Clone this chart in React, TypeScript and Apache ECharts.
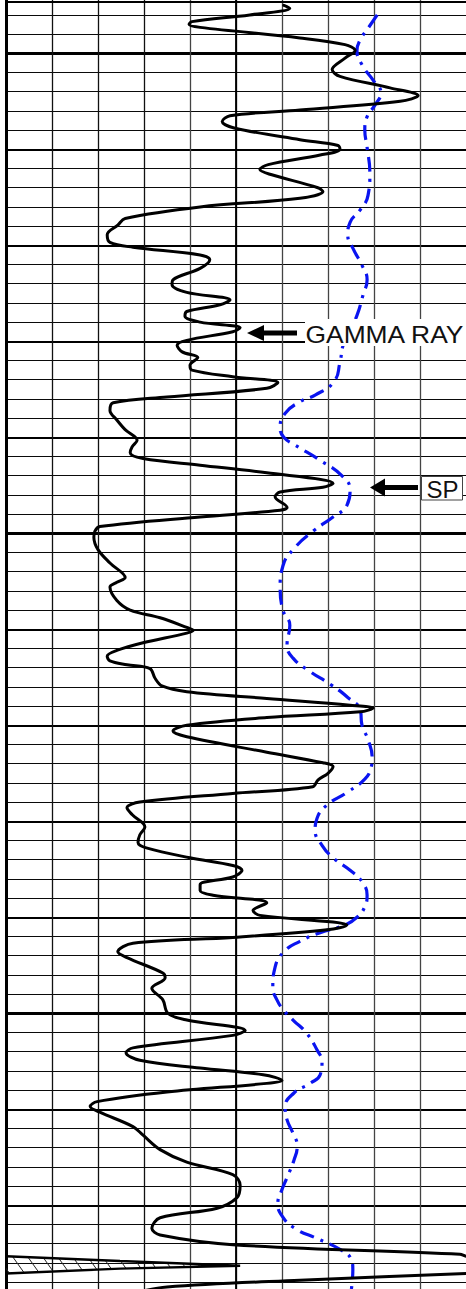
import React, { useEffect, useRef } from 'react';
import * as echarts from 'echarts';

// Depth (ft) and gamma-ray reading (0-100 scale, values above 100 wrap to a backup trace)
const gammaDepth = [4995.0, 4995.3, 4996.0, 4996.7, 4997.0, 4997.3, 4998.4, 4999.1, 4999.7, 5000.5,
  5001.7, 5002.4, 5003.6, 5004.4, 5005.0, 5005.9, 5006.5, 5007.1, 5007.8, 5009.0,
  5009.6, 5010.0, 5010.6, 5011.6, 5012.1, 5012.6, 5014.0, 5014.4, 5015.1, 5016.0,
  5017.2, 5017.9, 5018.9, 5019.7, 5020.2, 5021.0, 5021.5, 5022.4, 5023.6, 5024.1,
  5024.9, 5025.7, 5026.2, 5026.9, 5027.4, 5028.0, 5028.6, 5029.0, 5029.9, 5030.4,
  5031.1, 5031.7, 5032.5, 5033.0, 5033.7, 5034.3, 5034.9, 5035.8, 5036.4, 5037.2,
  5038.2, 5039.2, 5040.3, 5041.0, 5041.6, 5042.2, 5042.9, 5043.7, 5044.8, 5045.2,
  5045.7, 5046.2, 5047.3, 5047.6, 5048.3, 5049.3, 5049.8, 5050.4, 5051.7, 5053.1,
  5054.6, 5055.1, 5055.6, 5057.0, 5058.0, 5058.8, 5059.8, 5060.1, 5060.4, 5061.4,
  5062.2, 5062.8, 5063.3, 5063.7, 5064.1, 5065.1, 5065.9, 5066.5, 5067.2, 5067.9,
  5068.2, 5068.6, 5069.2, 5070.0, 5070.6, 5071.2, 5072.8, 5073.9, 5074.3, 5075.0,
  5075.7, 5076.4, 5077.1, 5078.0, 5078.6, 5079.3, 5080.6, 5081.4, 5082.2, 5082.8,
  5083.8, 5084.6, 5085.1, 5085.8, 5086.6, 5087.2, 5087.7, 5088.5, 5089.3, 5089.8,
  5090.5, 5090.8, 5091.3, 5092.1, 5092.7, 5093.6, 5094.2, 5095.8, 5096.3, 5097.4,
  5098.6, 5100.0, 5100.7, 5101.8, 5102.3, 5103.6, 5104.1, 5104.9, 5105.7, 5106.4,
  5107.0, 5107.3, 5108.2, 5109.2, 5109.7, 5110.3, 5111.8, 5112.7, 5114.2, 5115.5,
  5116.8, 5117.9, 5119.2, 5120.3, 5121.3, 5122.4, 5123.1, 5124.1, 5125.1, 5125.3,
  5125.8, 5126.3, 5126.6, 5127.1, 5127.8, 5128.5, 5129.0];

const gammaValue = [60.4, 61.7, 53.0, 40.4, 39.8, 42.2, 63.9, 73.7, 75.9, 73.7,
  70.9, 72.6, 83.5, 89.6, 85.7, 63.9, 48.7, 47.0, 49.8, 63.9,
  72.2, 72.6, 68.3, 57.0, 55.2, 57.4, 67.8, 68.9, 63.9, 42.2,
  25.9, 24.3, 22.0, 22.6, 27.6, 42.2, 44.3, 42.2, 36.3, 36.1,
  39.3, 48.7, 46.5, 39.3, 38.9, 42.2, 50.9, 49.3, 39.3, 37.2,
  38.3, 41.7, 40.0, 40.4, 49.3, 59.1, 56.7, 35.0, 23.3, 22.6,
  24.1, 25.9, 28.5, 27.4, 27.0, 29.8, 42.2, 56.7, 71.1, 68.9,
  59.6, 58.5, 61.1, 59.6, 42.2, 20.4, 19.3, 19.1, 20.0, 22.6,
  25.9, 24.1, 22.6, 24.1, 27.0, 33.5, 39.3, 40.7, 39.3, 29.8,
  24.1, 22.0, 22.6, 26.3, 31.3, 32.4, 33.9, 39.3, 56.7, 74.8,
  79.8, 77.0, 56.7, 39.3, 36.3, 39.3, 56.7, 68.9, 71.1, 70.0,
  67.8, 66.7, 49.3, 29.1, 26.3, 27.4, 30.2, 29.1, 28.7, 30.7,
  40.0, 49.3, 51.3, 49.3, 42.2, 42.2, 45.0, 56.7, 53.7, 55.2,
  71.1, 74.1, 69.8, 49.3, 27.6, 24.3, 26.3, 34.1, 34.6, 31.7,
  34.1, 35.2, 39.3, 52.0, 49.3, 27.6, 26.1, 29.1, 42.2, 55.9,
  60.0, 56.7, 35.0, 19.8, 18.3, 20.4, 27.6, 29.8, 33.5, 39.3,
  49.3, 50.9, 50.2, 45.9, 33.5, 31.7, 33.5, 49.3, 98.7, 100,
  124.8, 150.9, 124.8, 100, 63.9, 35.0, 29.1];

// Spontaneous potential trace
const spDepth = [4996.0, 4997.4, 4998.6, 4999.7, 5001.2, 5002.8, 5004.1, 5005.4, 5006.6, 5008.0,
  5009.8, 5012.5, 5014.8, 5016.3, 5017.6, 5018.9, 5020.3, 5022.1, 5023.6, 5025.2,
  5027.3, 5028.8, 5030.4, 5032.2, 5034.2, 5035.6, 5036.3, 5037.5, 5039.0, 5040.0,
  5040.8, 5042.4, 5044.0, 5045.5, 5047.1, 5048.3, 5049.8, 5051.5, 5053.4, 5055.6,
  5058.0, 5059.6, 5061.6, 5063.0, 5064.4, 5065.7, 5067.1, 5068.4, 5070.0, 5071.5,
  5073.4, 5074.5, 5075.6, 5077.0, 5078.3, 5079.7, 5080.9, 5082.5, 5083.8, 5085.1,
  5086.3, 5087.7, 5088.9, 5090.0, 5090.8, 5091.6, 5092.5, 5093.6, 5095.2, 5097.3,
  5098.6, 5099.7, 5100.7, 5102.1, 5103.8, 5105.1, 5106.4, 5107.3, 5108.3, 5109.8,
  5111.1, 5112.5, 5113.8, 5115.3, 5117.1, 5118.6, 5119.8, 5121.1, 5122.4, 5123.5,
  5124.6, 5125.6, 5126.7, 5129.0];

const spValue = [80.7, 78.7, 77.0, 76.3, 77.4, 79.8, 81.5, 80.2, 78.5, 78.0,
  78.5, 79.1, 78.7, 77.0, 74.8, 74.3, 75.4, 77.4, 78.5, 77.6,
  76.3, 74.8, 73.3, 72.6, 71.3, 67.2, 63.9, 60.7, 59.6, 60.4,
  62.8, 68.3, 73.0, 74.8, 74.1, 71.1, 66.7, 62.8, 60.2, 59.6,
  60.2, 61.7, 61.1, 62.4, 66.1, 70.4, 74.3, 77.0, 77.4, 78.7,
  79.6, 79.3, 78.0, 74.1, 69.8, 67.6, 67.2, 68.7, 71.1, 74.8,
  77.4, 78.5, 78.0, 76.3, 73.7, 68.3, 63.9, 60.4, 58.5, 58.0,
  58.9, 60.4, 62.4, 65.4, 67.6, 68.7, 68.3, 66.1, 62.6, 60.7,
  61.1, 62.4, 63.3, 62.6, 61.1, 59.8, 59.1, 60.0, 62.8, 67.8,
  72.6, 75.0, 75.4, 75.0];

const depthMin = 4950;
const depthMax = 5150;
const minorStep = 2;
const mediumStep = 10;
const majorStep = 50;
const scaleMin = 0;
const scaleMax = 100;
const scaleStep = 10;
const wrapAt = 100;

export default function App() {
  const ref = useRef<HTMLDivElement>(null);

  useEffect(() => {
    if (!ref.current) return;
    const chart = echarts.init(ref.current, null, { renderer: 'svg' });

    const gammaPairs = gammaValue.map((v, i) => [v, gammaDepth[i]]);
    const spPairs = spValue.map((v, i) => [v, spDepth[i]]);
    const backupPairs = gammaPairs.filter((p) => p[0] >= wrapAt).map((p) => [p[0] - wrapAt, p[1]]);

    const hatch = document.createElement('canvas');
    hatch.width = 15;
    hatch.height = 21;
    const g = hatch.getContext('2d');
    if (g) {
      g.strokeStyle = '#222';
      g.lineWidth = 1;
      g.beginPath();
      for (const ox of [-15, 0, 15]) {
        g.moveTo(ox, 0);
        g.lineTo(ox + 15, 21);
      }
      g.stroke();
    }
    const hatchPattern = { type: 'pattern', image: hatch, repeat: 'repeat', imageWidth: 15, imageHeight: 21 };

    const vColors = ['#000', '#111', '#111', '#111', '#444', '#000', '#444', '#444', '#444', '#444', 'rgba(0,0,0,0)'];

    const hiddenAxis = {
      axisLine: { show: false },
      axisTick: { show: false },
      axisLabel: { show: false },
    };

    const yBase = { type: 'value', min: depthMin, max: depthMax, inverse: true, position: 'left', offset: 0 };

    const option: any = {
      animation: false,
      backgroundColor: '#fff',
      grid: { left: 6, top: -426.7, width: 460, height: 1920, containLabel: false, outerBoundsMode: 'none' },
      xAxis: [
        {
          type: 'value', min: scaleMin, max: scaleMax, interval: scaleStep, position: 'top',
          ...hiddenAxis,
          splitLine: { show: true, lineStyle: { color: vColors, width: 1.3 } },
        },
        {
          type: 'value', min: scaleMin, max: scaleMax, interval: scaleMax / 2, position: 'top',
          ...hiddenAxis,
          splitLine: { show: true, lineStyle: { color: ['rgba(0,0,0,0)', '#000', 'rgba(0,0,0,0)'], width: 1.8 } },
        },
      ],
      yAxis: [
        {
          ...yBase, interval: minorStep,
          axisLine: { show: true, lineStyle: { color: '#000', width: 3 } },
          axisTick: { show: false }, axisLabel: { show: false },
          splitLine: { show: true, lineStyle: { color: '#0a0a0a', width: 1.2 } },
        },
        {
          ...yBase, interval: mediumStep, ...hiddenAxis,
          splitLine: { show: true, lineStyle: { color: '#000', width: 2 } },
        },
        {
          ...yBase, interval: majorStep, ...hiddenAxis,
          splitLine: { show: true, lineStyle: { color: '#000', width: 3 } },
        },
      ],
      series: [
        {
          type: 'custom',
          name: 'backup fill',
          coordinateSystem: 'cartesian2d',
          xAxisIndex: 0,
          yAxisIndex: 0,
          silent: true,
          z: 3,
          encode: { x: 0, y: 1 },
          data: [[0, backupPairs.length ? backupPairs[0][1] : depthMin]],
          renderItem: (_params: any, api: any) => {
            const pts = backupPairs.map((p) => api.coord([p[0], p[1]]));
            return {
              type: 'polygon',
              shape: { points: pts },
              style: { fill: hatchPattern, stroke: 'none' },
            };
          },
        },
        {
          type: 'line',
          name: 'GR backup',
          xAxisIndex: 0,
          yAxisIndex: 0,
          data: backupPairs,
          symbol: 'none',
          smooth: false,
          silent: true,
          z: 4,
          lineStyle: { color: '#000', width: 2.4 },
        },
        {
          type: 'line',
          name: 'GAMMA RAY',
          xAxisIndex: 0,
          yAxisIndex: 0,
          data: gammaPairs,
          symbol: 'none',
          smooth: 0.35,
          silent: true,
          z: 5,
          lineStyle: { color: '#000', width: 3, cap: 'round', join: 'round' },
        },
        {
          type: 'line',
          name: 'SP',
          xAxisIndex: 0,
          yAxisIndex: 0,
          data: spPairs,
          symbol: 'none',
          smooth: 0.5,
          silent: true,
          z: 4,
          lineStyle: { color: '#0a14f0', width: 3.2, type: [15, 7, 3, 7] },
        },
      ],
      graphic: [
        { type: 'line', silent: true, z: 100, shape: { x1: 5, y1: 2, x2: 466, y2: 2 }, style: { stroke: '#000', lineWidth: 2 } },
        { type: 'rect', silent: true, z: 100, shape: { x: 305, y: 319, width: 161, height: 27 }, style: { fill: '#fff' } },
        {
          type: 'text', silent: true, z: 101, x: 305.5, y: 334, scaleX: 1.1,
          style: { text: 'GAMMA RAY', fill: '#111', fontSize: 24, fontFamily: '"Liberation Sans", Arial, sans-serif', verticalAlign: 'middle' },
        },
        {
          type: 'polygon', silent: true, z: 101,
          shape: { points: [[247, 333], [264, 325], [264, 330.5], [297, 330.5], [297, 335.5], [264, 335.5], [264, 341]] },
          style: { fill: '#000' },
        },
        { type: 'rect', silent: true, z: 100, shape: { x: 421.5, y: 476.5, width: 41, height: 23.5 }, style: { fill: '#fff', stroke: '#444', lineWidth: 1 } },
        {
          type: 'text', silent: true, z: 101, x: 426.5, y: 489,
          style: { text: 'SP', fill: '#111', fontSize: 24, fontFamily: '"Liberation Sans", Arial, sans-serif', verticalAlign: 'middle' },
        },
        {
          type: 'polygon', silent: true, z: 101,
          shape: { points: [[370, 487.5], [385, 478.5], [385, 485], [418, 485], [418, 490], [385, 490], [385, 496.5]] },
          style: { fill: '#000' },
        },
      ],
    };

    chart.setOption(option);
    return () => {
      chart.dispose();
    };
  }, []);

  return (
    <div
      ref={ref}
      style={{ position: 'absolute', left: 0, top: 0, width: 466, height: 1289, background: '#fff' }}
    />
  );
}
